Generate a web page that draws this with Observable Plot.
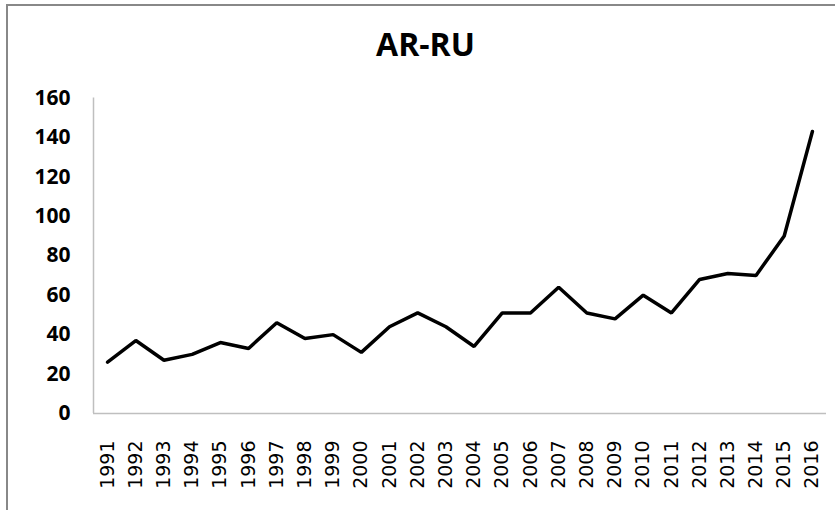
<!DOCTYPE html>
<html>
<head>
<meta charset="utf-8">
<script src="https://cdn.jsdelivr.net/npm/d3@7"></script>
<script src="https://cdn.jsdelivr.net/npm/@observablehq/plot@0.6"></script>
<style>
  html, body { margin: 0; padding: 0; background: #fff; }
  #wrap { position: relative; width: 835px; height: 510px; overflow: hidden; background: #fff; }
  #frame { position: absolute; left: 6px; top: 4px; width: 900px; height: 600px; border: 2px solid #888; box-sizing: border-box; }
  #title { position: absolute; left: 325px; width: 201px; top: 28px; text-align: center; font-family: "Open Sans", sans-serif; font-weight: bold; font-size: 32px; line-height: 32px; color: #000; }
  #chart { position: absolute; left: 0; top: 0; }
</style>
</head>
<body>
<div id="wrap">
  <div id="frame"></div>
  <div id="chart"></div>
  <div id="title">AR-RU</div>
</div>
<script>
const years = [1991,1992,1993,1994,1995,1996,1997,1998,1999,2000,2001,2002,2003,2004,2005,2006,2007,2008,2009,2010,2011,2012,2013,2014,2015,2016];
const values = [26,37,27,30,36,33,46,38,40,31,44,51,44,34,51,51,64,51,48,60,51,68,71,70,90,143];
const yTicks = [0,20,40,60,80,100,120,140,160];

const data = years.map((year, i) => ({year, value: values[i]}));

const chart = Plot.plot({
  width: 835,
  height: 510,
  marginLeft: 93,
  marginRight: 9,
  marginTop: 97.5,
  marginBottom: 97,
  x: {type: "linear", domain: [years[0] - 0.5, years[years.length - 1] + 0.5]},
  y: {domain: [0, 160]},
  marks: [
    Plot.ruleX([years[0] - 0.5], {stroke: "#bfbfbf", strokeWidth: 1.5}),
    Plot.ruleY([0], {stroke: "#bfbfbf", strokeWidth: 1.5}),
    Plot.axisY({ticks: yTicks, tickSize: 0, tickPadding: 23, fontSize: 21, fontWeight: "bold", fontFamily: "Open Sans", fill: "#000", label: null}),
    Plot.axisX({ticks: years, tickFormat: d => String(d), tickRotate: -90, tickSize: 0, tickPadding: 27, fontSize: 19, fontFamily: "DejaVu Sans", fill: "#000", label: null}),
    Plot.line(data, {x: "year", y: "value", stroke: "#000", strokeWidth: 3.5, strokeLinejoin: "miter"})
  ]
});
document.getElementById("chart").appendChild(chart);
</script>
</body>
</html>
